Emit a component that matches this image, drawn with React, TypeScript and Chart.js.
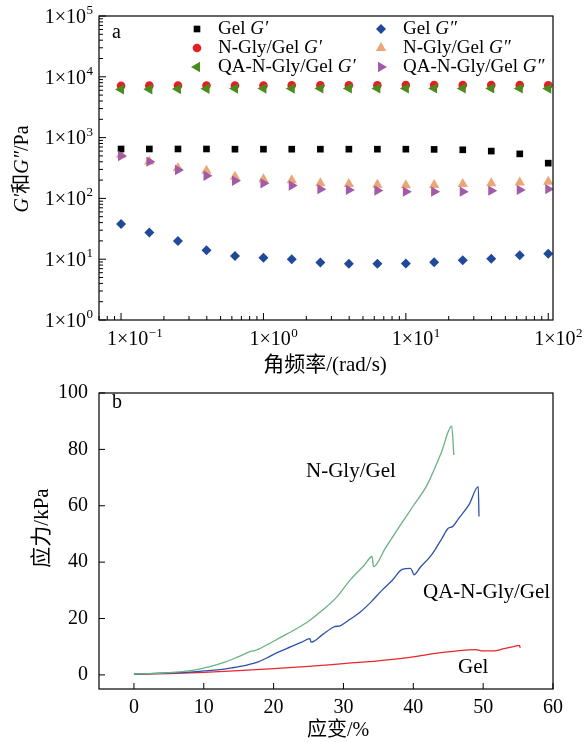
import React, { useEffect, useRef } from 'react';
import { Chart, registerables } from 'chart.js';

Chart.register(...registerables);

const SERIF = "'Liberation Serif', 'Times New Roman', 'Noto Sans CJK SC', serif";

// ---------- Panel a: frequency sweep ----------
const freq = [0.1, 0.158, 0.251, 0.398, 0.631, 1, 1.58, 2.51, 3.98, 6.31, 10, 15.8, 25.1, 39.8, 63.1, 100];
const gelStorage = [650, 650, 650, 650, 645, 645, 645, 645, 645, 645, 645, 640, 630, 600, 540, 380];
const nGlyStorage = [7100, 7150, 7150, 7200, 7200, 7200, 7250, 7250, 7250, 7250, 7300, 7300, 7300, 7300, 7300, 7250];
const qaStorage = [6200, 6250, 6300, 6350, 6400, 6400, 6400, 6450, 6450, 6450, 6450, 6450, 6450, 6450, 6450, 6400];
const gelLoss = [38, 27.5, 20, 14, 11.3, 10.6, 10, 8.8, 8.4, 8.4, 8.5, 8.9, 9.6, 10.2, 11.6, 12.3];
const nGlyLoss = [520, 405, 315, 285, 228, 206, 198, 178, 173, 167, 164, 166, 172, 177, 183, 188];
const qaLoss = [498, 402, 293, 236, 195, 177, 163, 142, 138, 135, 129, 129, 129, 134, 138, 142];

const freqDecades = [0.1, 1, 10, 100];
const modulusDecades = [1, 10, 100, 1000, 10000, 100000];

// ---------- Panel b: stress-strain ----------
const nGlyStrain = [0, 3, 6, 9, 11, 13, 15, 16.8, 17.3, 19, 21, 23, 25, 27, 29, 31, 33, 34.1, 34.3, 36, 38, 40, 42, 44, 45.5, 45.8];
const nGlyStress = [0.3, 0.5, 1.0, 1.9, 3.0, 4.5, 6.5, 8.4, 8.6, 10.6, 13.3, 16.0, 19.0, 23.0, 27.5, 33.8, 39.0, 42.0, 38.4, 45.0, 52.6, 60.0, 67.5, 78.8, 88.2, 78.0];
const qaStrain = [0, 4, 8, 10, 12, 14, 16, 17.8, 19, 20.5, 22.5, 24, 25.2, 25.35, 27, 28.6, 29.6, 31, 32.5, 34, 35.5, 37, 38.4, 39.6, 39.9, 40.1, 41, 42.5, 44, 45, 45.6, 46.5, 48, 49.3, 49.4];
const qaStress = [0.3, 0.6, 1.0, 1.4, 1.8, 2.5, 3.4, 4.6, 6.0, 7.9, 10.0, 11.6, 12.9, 11.6, 14.3, 17.0, 17.5, 19.8, 22.5, 26.0, 30.0, 33.6, 37.4, 37.8, 36.5, 35.5, 38.2, 42.2, 48.0, 52.0, 52.6, 55.5, 60.5, 66.8, 56.2];
const gelStrain = [0, 5, 10, 15, 20, 25, 30, 35, 38, 40, 42, 44, 46, 48, 49, 49.6, 50, 51.5, 53, 54.5, 55.2, 55.3];
const gelStress = [0.2, 0.5, 0.9, 1.5, 2.2, 3.0, 4.0, 5.0, 5.8, 6.4, 7.2, 7.9, 8.4, 8.9, 9.0, 8.6, 8.5, 8.5, 9.3, 10.1, 10.5, 9.6];

const strainTicks = [0, 10, 20, 30, 40, 50, 60];
const stressTicks = [0, 20, 40, 60, 80, 100];

const zip = (xs: number[], ys: number[]) => xs.map((x, i) => ({ x, y: ys[i] }));

type Seg = { t: string; italic?: boolean };

function drawSegs(ctx: CanvasRenderingContext2D, segs: Seg[], x: number, y: number, size: number, align: 'left' | 'center') {
  const fonts = segs.map((s) => `${s.italic ? 'italic ' : ''}${size}px ${SERIF}`);
  const widths = segs.map((s, i) => {
    ctx.font = fonts[i];
    return ctx.measureText(s.t).width;
  });
  const total = widths.reduce((a, b) => a + b, 0);
  let cx = align === 'center' ? x - total / 2 : x;
  ctx.textAlign = 'left';
  segs.forEach((s, i) => {
    ctx.font = fonts[i];
    ctx.fillText(s.t, cx, y);
    cx += widths[i];
  });
}

function drawRotated(ctx: CanvasRenderingContext2D, segs: Seg[], cx: number, cy: number, size: number) {
  ctx.save();
  ctx.translate(cx, cy);
  ctx.rotate(-Math.PI / 2);
  ctx.textBaseline = 'middle';
  drawSegs(ctx, segs, 0, 0, size, 'center');
  ctx.restore();
}

function drawMarker(ctx: CanvasRenderingContext2D, style: string, x: number, y: number, r: number, color: string, rot: number) {
  ctx.save();
  ctx.fillStyle = color;
  ctx.beginPath();
  if (style === 'rect') {
    const s = r * Math.SQRT1_2;
    ctx.rect(x - s, y - s, 2 * s, 2 * s);
  } else if (style === 'circle') {
    ctx.arc(x, y, r, 0, Math.PI * 2);
  } else if (style === 'rectRot') {
    ctx.moveTo(x - r, y);
    ctx.lineTo(x, y - r);
    ctx.lineTo(x + r, y);
    ctx.lineTo(x, y + r);
  } else {
    let a = (rot * Math.PI) / 180;
    for (let i = 0; i < 3; i++) {
      const px = x + Math.sin(a) * r;
      const py = y - Math.cos(a) * r;
      if (i === 0) ctx.moveTo(px, py);
      else ctx.lineTo(px, py);
      a += (2 * Math.PI) / 3;
    }
  }
  ctx.closePath();
  ctx.fill();
  ctx.restore();
}

const expText = (v: number) => {
  const e = Math.round(Math.log10(v));
  return e < 0 ? '\u2212' + Math.abs(e) : String(e);
};

const panelAPlugin = {
  id: 'panelA',
  afterDraw(chart: any) {
    const { ctx, chartArea: a, scales } = chart;
    const x = scales.x;
    const y = scales.y;
    ctx.save();
    ctx.strokeStyle = '#000';
    ctx.lineWidth = 1.2;
    ctx.strokeRect(a.left, a.top, a.right - a.left, a.bottom - a.top);
    ctx.lineWidth = 1;
    ctx.beginPath();
    for (let e = -2; e <= 2; e++) {
      for (let k = 1; k <= 9; k++) {
        const v = k * Math.pow(10, e);
        if (v < x.min * 0.999 || v > x.max) continue;
        const px = x.getPixelForValue(v);
        ctx.moveTo(px, a.bottom);
        ctx.lineTo(px, a.bottom - (k === 1 ? 7 : 4));
      }
    }
    for (let e = 0; e <= 5; e++) {
      for (let k = 1; k <= 9; k++) {
        const v = k * Math.pow(10, e);
        if (v < y.min || v > y.max * 1.001) continue;
        const py = y.getPixelForValue(v);
        ctx.moveTo(a.left, py);
        ctx.lineTo(a.left + (k === 1 ? 7 : 4), py);
      }
    }
    ctx.stroke();

    ctx.fillStyle = '#000';
    ctx.textBaseline = 'alphabetic';
    const baseFont = `20px ${SERIF}`;
    const supFont = `13px ${SERIF}`;
    // x tick labels
    freqDecades.forEach((v) => {
      const px = x.getPixelForValue(v);
      ctx.font = baseFont;
      ctx.textAlign = 'left';
      const left = px - 14;
      ctx.fillText('1\u00d710', left, a.bottom + 25);
      const w = ctx.measureText('1\u00d710').width;
      ctx.font = supFont;
      ctx.fillText(expText(v), left + w + 0.5, a.bottom + 17);
    });
    // y tick labels
    modulusDecades.forEach((v) => {
      const py = y.getPixelForValue(v);
      ctx.font = supFont;
      const sw = ctx.measureText(expText(v)).width;
      const right = a.left - 6;
      ctx.textAlign = 'left';
      ctx.fillText(expText(v), right - sw, py - 2);
      ctx.font = baseFont;
      ctx.textAlign = 'right';
      ctx.fillText('1\u00d710', right - sw - 0.5, py + 6.7);
    });

    // legend
    ctx.textBaseline = 'middle';
    chart.data.datasets.forEach((ds: any, i: number) => {
      const col = i < 3 ? 0 : 1;
      const row = i % 3;
      const mx = col === 0 ? 197 : 381;
      const tx = col === 0 ? 218 : 403;
      const ty = 29 + row * 19;
      drawMarker(ctx, ds.pointStyle, mx, ty, ds.pointRadius, ds.backgroundColor, ds.pointRotation || 0);
      const label: string = ds.label;
      const cut = label.lastIndexOf(' ');
      ctx.fillStyle = '#000';
      drawSegs(ctx, [{ t: label.slice(0, cut + 1) }, { t: label.slice(cut + 1), italic: true }], tx, ty, 19, 'left');
    });

    // panel letter
    ctx.textBaseline = 'alphabetic';
    ctx.font = `20px ${SERIF}`;
    ctx.textAlign = 'left';
    ctx.fillText('a', 112, 38);

    // axis titles
    ctx.textBaseline = 'middle';
    drawSegs(ctx, [{ t: '角频率/(rad/s)' }], 325, 365, 21, 'center');
    drawRotated(ctx, [{ t: 'G\u2032', italic: true }, { t: '和' }, { t: 'G\u2033', italic: true }, { t: '/Pa' }], 23, 169, 20);
    ctx.restore();
  },
};

const OFFSET_B = 370;

const panelBPlugin = {
  id: 'panelB',
  afterDraw(chart: any) {
    const { ctx, chartArea: a, scales } = chart;
    const x = scales.x;
    const y = scales.y;
    ctx.save();
    ctx.strokeStyle = '#000';
    ctx.lineWidth = 1.2;
    ctx.strokeRect(a.left, a.top, a.right - a.left, a.bottom - a.top);
    ctx.lineWidth = 1;
    ctx.beginPath();
    strainTicks.forEach((v) => {
      const px = x.getPixelForValue(v);
      ctx.moveTo(px, a.bottom);
      ctx.lineTo(px, a.bottom - 6);
    });
    stressTicks.forEach((v) => {
      const py = y.getPixelForValue(v);
      ctx.moveTo(a.left, py);
      ctx.lineTo(a.left + 6, py);
    });
    ctx.stroke();

    ctx.fillStyle = '#000';
    ctx.textBaseline = 'alphabetic';
    ctx.textAlign = 'left';
    ctx.font = `20px ${SERIF}`;
    ctx.fillText('b', 112, 408 - OFFSET_B);

    const names = chart.data.datasets.map((d: any) => d.label);
    ctx.font = `21px ${SERIF}`;
    ctx.fillText(names[0], 306, 477 - OFFSET_B);
    ctx.fillText(names[1], 423, 598 - OFFSET_B);
    ctx.fillText(names[2], 458, 673 - OFFSET_B);

    ctx.textBaseline = 'middle';
    drawSegs(ctx, [{ t: '应变/%' }], 338, 731 - OFFSET_B, 20, 'center');
    drawRotated(ctx, [{ t: '应力/kPa' }], 42, 528 - OFFSET_B, 21);
    ctx.restore();
  },
};

function scatterSet(label: string, data: number[], color: string, style: string, radius: number, rotation: number, order: number) {
  return {
    label,
    data: zip(freq, data),
    pointStyle: style,
    pointRadius: radius,
    pointRotation: rotation,
    backgroundColor: color,
    borderColor: color,
    borderWidth: 0,
    pointBorderWidth: 0,
    order,
  };
}

function lineSet(label: string, xs: number[], ys: number[], color: string) {
  return {
    label,
    data: zip(xs, ys),
    showLine: true,
    borderColor: color,
    backgroundColor: color,
    borderWidth: 1.3,
    pointRadius: 0,
    cubicInterpolationMode: 'monotone',
  };
}

export default function App() {
  const refA = useRef<HTMLCanvasElement>(null);
  const refB = useRef<HTMLCanvasElement>(null);

  useEffect(() => {
    const chartA = new Chart(refA.current as HTMLCanvasElement, {
      type: 'scatter',
      data: {
        datasets: [
          scatterSet('Gel G\u2032', gelStorage, '#000000', 'rect', 4.7, 0, 1),
          scatterSet('N-Gly/Gel G\u2032', nGlyStorage, '#e31e24', 'circle', 4.3, 0, 1),
          scatterSet('QA-N-Gly/Gel G\u2032', qaStorage, '#4a8c1c', 'triangle', 6, -90, 0),
          scatterSet('Gel G\u2033', gelLoss, '#20499b', 'rectRot', 5, 0, 1),
          scatterSet('N-Gly/Gel G\u2033', nGlyLoss, '#eba678', 'triangle', 6, 0, 1),
          scatterSet('QA-N-Gly/Gel G\u2033', qaLoss, '#a35ba8', 'triangle', 6, 90, 0),
        ] as any,
      },
      options: {
        animation: false,
        responsive: false,
        maintainAspectRatio: false,
        layout: { padding: { top: 16, right: 33, left: 0, bottom: 0 } },
        plugins: { legend: { display: false }, tooltip: { enabled: false } },
        scales: {
          x: {
            type: 'logarithmic',
            min: 0.07,
            max: 108,
            grid: { display: false, drawTicks: false },
            border: { display: false },
            ticks: { display: false },
            afterFit: (s: any) => {
              s.height = 60;
            },
          },
          y: {
            type: 'logarithmic',
            min: 1,
            max: 100000,
            grid: { display: false, drawTicks: false },
            border: { display: false },
            ticks: { display: false },
            afterFit: (s: any) => {
              s.width = 99;
            },
          },
        },
      } as any,
      plugins: [panelAPlugin],
    });

    const chartB = new Chart(refB.current as HTMLCanvasElement, {
      type: 'scatter',
      data: {
        datasets: [
          lineSet('N-Gly/Gel', nGlyStrain, nGlyStress, '#6ab282'),
          lineSet('QA-N-Gly/Gel', qaStrain, qaStress, '#2c53a8'),
          lineSet('Gel', gelStrain, gelStress, '#e8262c'),
        ] as any,
      },
      options: {
        animation: false,
        responsive: false,
        maintainAspectRatio: false,
        layout: { padding: { top: 16, right: 33, left: 0, bottom: 0 } },
        plugins: { legend: { display: false }, tooltip: { enabled: false } },
        scales: {
          x: {
            type: 'linear',
            min: -5,
            max: 60,
            grid: { display: false, drawTicks: false },
            border: { display: false },
            afterBuildTicks: (s: any) => {
              s.ticks = strainTicks.map((v) => ({ value: v }));
            },
            ticks: {
              font: { family: SERIF, size: 20 },
              color: '#000',
              padding: 7,
              maxRotation: 0,
              autoSkip: false,
            },
            afterFit: (s: any) => {
              s.height = 53;
            },
          },
          y: {
            type: 'linear',
            min: -5,
            max: 100,
            grid: { display: false, drawTicks: false },
            border: { display: false },
            afterBuildTicks: (s: any) => {
              s.ticks = stressTicks.map((v) => ({ value: v }));
            },
            ticks: {
              font: { family: SERIF, size: 20 },
              color: '#000',
              padding: 11,
              autoSkip: false,
            },
            afterFit: (s: any) => {
              s.width = 99;
            },
          },
        },
      } as any,
      plugins: [panelBPlugin],
    });

    return () => {
      chartA.destroy();
      chartB.destroy();
    };
  }, []);

  return (
    <div style={{ position: 'fixed', left: 0, top: 0, width: 586, height: 742, background: '#ffffff' }}>
      <canvas
        ref={refA}
        width={586}
        height={380}
        style={{ position: 'absolute', left: 0, top: 0, width: 586, height: 380 }}
      />
      <canvas
        ref={refB}
        width={586}
        height={372}
        style={{ position: 'absolute', left: 0, top: OFFSET_B, width: 586, height: 372 }}
      />
    </div>
  );
}
